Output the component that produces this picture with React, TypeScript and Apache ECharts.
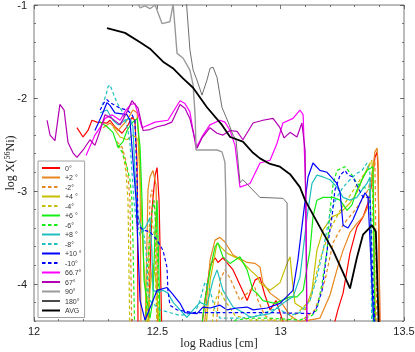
import React, { useEffect, useRef } from 'react';
import * as echarts from 'echarts';

// Legend / series names
const seriesNames = ['0°', '+2 °', '-2°', '+4 °', '-4°', '+6 °', '-6°', '+8 °', '-8°', '+10 °', '-10°', '66.7°', '67°', '90°', '180°', 'AVG'];

// x tick values and y label values
const xTickValues = [12, 12.5, 13, 13.5];
const yMajorValues = [-4, -3, -2, -1];

// [log Radius, log X(56Ni)]
const d0 = [[12.174,-2.32],[12.199,-2.42],[12.219,-2.35],[12.235,-2.24],[12.255,-2.26],[12.296,-2.27],[12.308,-2.24],[12.328,-2.31],[12.357,-2.38],[12.377,-2.31],[12.397,-2.21],[12.409,-2.24],[12.418,-2.70],[12.422,-4.61],[12.462,-4.61],[12.478,-3.21],[12.491,-2.83],[12.499,-2.75],[12.507,-3.10],[12.519,-4.61],[12.673,-4.61],[12.693,-4.18],[12.714,-3.80],[12.734,-3.72],[12.746,-3.77],[12.766,-3.72],[12.807,-3.85],[12.864,-4.18],[12.896,-3.96],[12.916,-3.93],[12.936,-4.12],[12.957,-4.28],[12.981,-4.18],[13.005,-4.37],[13.038,-4.61],[13.200,-4.61],[13.232,-4.28],[13.253,-4.10],[13.281,-3.67],[13.309,-3.39],[13.334,-3.28],[13.354,-3.13],[13.370,-2.92],[13.382,-2.64],[13.391,-2.58],[13.395,-2.78],[13.403,-4.61]];
const dP2 = [[12.280,-2.32],[12.308,-2.27],[12.341,-2.35],[12.377,-2.24],[12.401,-2.13],[12.418,-2.16],[12.430,-2.70],[12.434,-4.61],[12.450,-4.61],[12.462,-2.99],[12.470,-2.85],[12.482,-2.78],[12.495,-2.94],[12.503,-4.61],[12.653,-4.61],[12.693,-4.39],[12.714,-3.74],[12.734,-3.53],[12.754,-3.50],[12.774,-3.55],[12.807,-3.69],[12.864,-3.77],[12.896,-3.78],[12.916,-3.82],[12.928,-3.99],[12.957,-4.10],[12.997,-4.18],[13.038,-4.34],[13.078,-4.41],[13.159,-4.37],[13.200,-4.12],[13.228,-3.85],[13.253,-3.64],[13.281,-3.45],[13.309,-3.35],[13.334,-3.28],[13.354,-3.17],[13.370,-2.85],[13.382,-2.58],[13.391,-2.54],[13.395,-2.70],[13.403,-4.61]];
const dM2 = [[12.336,-2.47],[12.357,-2.53],[12.369,-2.64],[12.381,-2.83],[12.389,-3.10],[12.397,-4.61],[12.458,-4.61],[12.470,-3.10],[12.478,-2.99],[12.491,-3.21],[12.499,-4.61],[12.734,-4.61],[12.754,-3.96],[12.774,-3.85],[12.795,-3.94],[12.835,-4.18],[12.876,-4.07],[12.896,-4.04],[12.908,-4.18],[12.936,-4.34],[12.977,-4.41],[13.078,-4.41],[13.139,-4.28],[13.180,-3.96],[13.212,-3.56],[13.241,-3.42],[13.269,-3.31],[13.301,-3.21],[13.330,-3.10],[13.354,-2.99],[13.370,-2.83],[13.382,-2.67],[13.391,-4.61]];
const dP4 = [[12.320,-2.31],[12.349,-2.42],[12.377,-2.45],[12.401,-2.40],[12.422,-2.45],[12.434,-3.10],[12.442,-3.64],[12.454,-4.18],[12.462,-4.61],[12.470,-4.07],[12.482,-3.78],[12.495,-3.96],[12.511,-4.61],[12.693,-4.61],[12.714,-3.96],[12.742,-3.56],[12.782,-3.67],[12.835,-3.74],[12.876,-3.85],[12.908,-3.93],[12.916,-3.99],[12.957,-4.07],[12.997,-3.99],[13.026,-3.78],[13.038,-3.71],[13.046,-3.93],[13.058,-4.21],[13.099,-4.28],[13.127,-4.07],[13.147,-3.64],[13.172,-3.42],[13.208,-3.28],[13.241,-3.24],[13.281,-3.13],[13.309,-3.02],[13.334,-2.85],[13.362,-2.70],[13.374,-2.70],[13.382,-3.99],[13.386,-4.61]];
const dM4 = [[12.341,-2.51],[12.357,-2.56],[12.365,-2.67],[12.373,-2.80],[12.381,-3.10],[12.389,-4.61],[12.462,-4.61],[12.470,-3.42],[12.478,-3.31],[12.491,-3.53],[12.499,-4.61],[12.714,-4.61],[12.734,-4.18],[12.754,-4.07],[12.774,-4.18],[12.815,-4.34],[12.876,-4.39],[13.038,-4.39],[13.119,-4.18],[13.159,-3.74],[13.200,-3.42],[13.241,-3.21],[13.281,-3.05],[13.322,-2.88],[13.350,-2.78],[13.370,-2.67],[13.382,-4.61]];
const dP6 = [[12.268,-2.26],[12.296,-2.31],[12.320,-2.37],[12.341,-2.53],[12.361,-2.47],[12.377,-2.35],[12.397,-2.27],[12.418,-2.22],[12.430,-2.53],[12.438,-3.10],[12.446,-3.96],[12.458,-4.18],[12.470,-4.37],[12.482,-4.18],[12.491,-3.42],[12.499,-3.10],[12.503,-3.50],[12.511,-4.39],[12.519,-4.61],[12.673,-4.61],[12.693,-4.18],[12.714,-3.85],[12.734,-3.60],[12.746,-3.56],[12.766,-3.71],[12.795,-3.78],[12.835,-3.71],[12.864,-3.85],[12.888,-4.07],[12.904,-4.10],[12.928,-4.18],[12.977,-4.21],[13.038,-4.14],[13.066,-4.14],[13.091,-4.07],[13.119,-3.64],[13.131,-3.28],[13.147,-3.10],[13.172,-3.07],[13.212,-3.07],[13.241,-3.10],[13.269,-3.21],[13.289,-3.15],[13.309,-2.99],[13.330,-2.88],[13.350,-2.78],[13.374,-2.74],[13.382,-4.61]];
const dM6 = [[12.336,-2.51],[12.357,-2.58],[12.377,-2.74],[12.389,-2.88],[12.397,-3.10],[12.401,-3.53],[12.409,-4.61],[12.450,-4.61],[12.462,-3.74],[12.474,-3.31],[12.486,-3.10],[12.499,-3.53],[12.511,-4.61],[12.774,-4.61],[12.815,-4.39],[12.876,-4.37],[12.957,-4.37],[13.078,-4.39],[13.127,-4.34],[13.147,-4.28],[13.168,-3.99],[13.188,-3.64],[13.200,-3.21],[13.212,-2.94],[13.228,-2.78],[13.261,-2.74],[13.289,-2.83],[13.309,-2.92],[13.334,-2.96],[13.362,-2.99],[13.374,-4.61]];
const dP8 = [[12.268,-2.16],[12.296,-2.13],[12.320,-2.24],[12.341,-2.29],[12.369,-2.24],[12.389,-2.22],[12.401,-2.31],[12.409,-2.78],[12.418,-3.21],[12.422,-3.28],[12.438,-3.42],[12.450,-3.40],[12.470,-3.29],[12.478,-3.64],[12.482,-4.07],[12.503,-4.09],[12.523,-4.07],[12.543,-4.10],[12.564,-4.20],[12.592,-4.28],[12.620,-4.36],[12.645,-4.28],[12.673,-4.20],[12.701,-4.23],[12.726,-3.96],[12.742,-3.85],[12.754,-3.96],[12.766,-4.07],[12.807,-4.25],[12.855,-4.32],[12.876,-4.36],[12.957,-4.32],[13.009,-4.21],[13.050,-4.14],[13.078,-3.93],[13.091,-3.64],[13.107,-3.28],[13.127,-2.92],[13.147,-2.83],[13.172,-2.85],[13.200,-2.88],[13.228,-2.96],[13.253,-3.07],[13.281,-3.10],[13.309,-3.07],[13.330,-2.99],[13.350,-2.92],[13.362,-2.85],[13.370,-3.99],[13.378,-4.61]];
const dM8 = [[12.276,-2.08],[12.292,-1.97],[12.300,-1.88],[12.308,-1.86],[12.324,-1.97],[12.336,-2.05],[12.361,-2.16],[12.381,-2.35],[12.389,-2.49],[12.397,-2.78],[12.405,-3.10],[12.414,-3.31],[12.430,-3.48],[12.442,-3.40],[12.454,-3.64],[12.462,-4.07],[12.470,-4.18],[12.511,-4.28],[12.592,-4.34],[12.653,-4.31],[12.673,-4.18],[12.693,-3.98],[12.714,-4.07],[12.734,-4.28],[12.754,-4.37],[12.835,-4.37],[12.896,-4.35],[12.936,-4.31],[12.985,-4.26],[13.038,-4.34],[13.078,-4.31],[13.119,-4.18],[13.147,-3.93],[13.172,-3.64],[13.200,-3.24],[13.228,-3.07],[13.253,-2.96],[13.281,-2.88],[13.309,-2.81],[13.330,-2.78],[13.350,-2.70],[13.362,-2.81],[13.370,-4.61]];
const dP10 = [[12.247,-2.35],[12.276,-2.18],[12.296,-2.05],[12.308,-2.08],[12.328,-2.16],[12.377,-2.18],[12.389,-2.24],[12.401,-2.67],[12.414,-3.10],[12.422,-3.64],[12.430,-4.18],[12.450,-4.39],[12.478,-4.21],[12.499,-4.07],[12.539,-4.04],[12.559,-4.10],[12.592,-4.21],[12.612,-4.31],[12.661,-4.32],[12.685,-4.25],[12.714,-4.26],[12.754,-4.23],[12.782,-4.28],[12.823,-4.26],[12.864,-4.25],[12.888,-4.28],[12.945,-4.26],[12.997,-4.21],[13.050,-4.07],[13.070,-3.74],[13.091,-3.28],[13.111,-2.85],[13.131,-2.70],[13.159,-2.78],[13.188,-2.80],[13.228,-2.92],[13.241,-3.02],[13.253,-3.37],[13.273,-3.40],[13.293,-3.31],[13.322,-3.13],[13.342,-3.02],[13.354,-3.07],[13.370,-3.99],[13.382,-4.61]];
const dM10 = [[12.268,-2.13],[12.284,-2.05],[12.296,-2.02],[12.308,-2.05],[12.328,-2.08],[12.349,-2.11],[12.377,-2.13],[12.397,-2.18],[12.409,-2.24],[12.418,-2.88],[12.422,-3.37],[12.442,-3.42],[12.470,-3.44],[12.499,-3.53],[12.523,-3.64],[12.539,-3.82],[12.543,-4.07],[12.551,-4.23],[12.580,-4.28],[12.645,-4.31],[12.795,-4.31],[12.957,-4.31],[13.131,-4.32],[13.147,-4.25],[13.168,-4.07],[13.180,-3.82],[13.192,-3.56],[13.208,-3.28],[13.220,-2.99],[13.241,-2.83],[13.261,-2.78],[13.273,-2.83],[13.293,-2.85],[13.309,-2.94],[13.334,-3.07],[13.362,-3.07],[13.374,-3.99],[13.386,-4.61]];
const d667 = [[12.211,-2.62],[12.247,-2.40],[12.268,-2.32],[12.288,-2.22],[12.316,-2.18],[12.349,-2.24],[12.373,-2.13],[12.393,-2.07],[12.409,-2.06],[12.438,-2.32],[12.491,-2.26],[12.543,-2.24],[12.592,-2.03],[12.612,-2.06],[12.632,-2.15],[12.657,-2.54],[12.685,-2.40],[12.713,-2.29],[12.754,-2.24],[12.774,-2.26],[12.795,-2.35],[12.815,-2.51],[12.827,-2.78],[12.835,-2.96],[12.876,-2.92],[12.916,-2.70],[12.957,-2.67],[12.985,-2.49],[13.009,-2.27],[13.050,-2.22],[13.078,-2.13],[13.091,-2.18],[13.103,-3.10],[13.107,-4.61]];
const d67 = [[12.053,-2.24],[12.065,-2.40],[12.085,-2.46],[12.105,-2.07],[12.122,-2.13],[12.138,-2.48],[12.158,-2.59],[12.174,-2.64],[12.199,-2.56],[12.227,-2.45],[12.247,-2.51],[12.268,-2.35],[12.288,-2.18],[12.316,-2.22],[12.349,-2.29],[12.377,-2.15],[12.397,-2.03],[12.422,-2.11],[12.442,-2.35],[12.470,-2.34],[12.499,-2.31],[12.531,-2.29],[12.559,-2.26],[12.592,-2.07],[12.612,-2.11],[12.632,-2.22],[12.661,-2.54],[12.681,-2.43],[12.713,-2.32],[12.742,-2.38],[12.766,-2.40],[12.795,-2.35],[12.823,-2.36],[12.847,-2.45],[12.888,-2.27],[12.928,-2.24],[12.969,-2.22],[12.997,-2.32],[13.014,-2.43],[13.038,-2.37],[13.066,-2.42],[13.086,-2.27],[13.099,-2.56],[13.107,-4.61]];
const d90 = [[12.418,-0.97],[12.430,-1.03],[12.450,-1.01],[12.470,-1.04],[12.491,-1.00],[12.519,-1.20],[12.551,-1.18],[12.564,-0.99],[12.580,-1.52],[12.604,-1.57],[12.632,-1.70],[12.645,-1.86],[12.653,-2.18],[12.657,-2.56],[12.742,-2.56],[12.762,-2.58],[12.774,-2.69],[12.778,-3.10],[12.778,-4.61]];
const d180 = [[12.616,-0.90],[12.632,-1.48],[12.645,-1.70],[12.661,-1.81],[12.681,-1.97],[12.701,-1.81],[12.714,-1.68],[12.726,-1.67],[12.742,-1.78],[12.762,-2.10],[12.787,-2.26],[12.807,-2.40],[12.819,-2.45],[12.835,-2.91],[12.847,-2.88],[12.876,-2.96],[12.916,-3.07],[13.009,-3.08],[13.026,-3.13],[13.027,-4.61]];
const dAvg = [[12.296,-1.25],[12.369,-1.30],[12.430,-1.40],[12.470,-1.47],[12.523,-1.61],[12.563,-1.68],[12.604,-1.79],[12.645,-1.89],[12.701,-2.10],[12.762,-2.29],[12.795,-2.42],[12.847,-2.47],[12.888,-2.59],[12.916,-2.65],[12.957,-2.71],[12.997,-2.74],[13.038,-2.82],[13.078,-2.96],[13.099,-3.10],[13.159,-3.39],[13.212,-3.64],[13.253,-3.88],[13.281,-4.05],[13.309,-3.72],[13.334,-3.47],[13.370,-3.37],[13.386,-3.44],[13.398,-4.50]];

const seriesData = [d0, dP2, dM2, dP4, dM4, dP6, dM6, dP8, dM8, dP10, dM10, d667, d67, d90, d180, dAvg];

// styles
const colors = ['#ff0000', '#e8861f', '#e8861f', '#c6be00', '#c6be00', '#14ee14', '#14ee14', '#1fbfbf', '#1fbfbf', '#0000ff', '#0000ff', '#ff00ff', '#b400b4', '#9a9a9a', '#4a4a4a', '#000000'];
const dashed = [false, false, true, false, true, false, true, false, true, false, true, false, false, false, false, false];
const widths = [1.2, 1.2, 1.2, 1.2, 1.2, 1.2, 1.2, 1.2, 1.2, 1.2, 1.2, 1.2, 1.2, 1.4, 0.8, 1.8];

const AXIS = '#555';

export default function App() {
  const ref = useRef<HTMLDivElement>(null);
  useEffect(() => {
    if (!ref.current) return;
    const chart = echarts.init(ref.current, undefined, { renderer: 'svg' });
    const xBase = {
      type: 'value', min: xTickValues[0], max: xTickValues[xTickValues.length - 1], interval: 0.5,
      axisLine: { show: false },
      axisTick: { inside: true, length: 4, lineStyle: { color: AXIS, width: 0.8 } },
      minorTick: { show: true, splitNumber: 5, length: 2, lineStyle: { color: AXIS, width: 0.8 } },
      splitLine: { show: false }, minorSplitLine: { show: false },
    };
    const yBase = {
      type: 'value', min: -4.4, max: -1,
      axisLine: { show: false }, splitLine: { show: false },
    };
    chart.setOption({
      animation: false,
      grid: {
        left: 34, right: 11, top: 5, bottom: 31, show: true, borderColor: AXIS, borderWidth: 0.8, backgroundColor: '#fff',
        containLabel: false, outerBoundsMode: 'none',
      },
      xAxis: [
        {
          ...xBase, position: 'bottom',
          axisLabel: { fontSize: 11, color: '#222', margin: 4, fontFamily: 'Liberation Sans', customValues: xTickValues, showMinLabel: true, showMaxLabel: true, hideOverlap: false },
          name: 'log Radius [cm]', nameLocation: 'middle', nameGap: 16, nameMoveOverlap: false,
          nameTextStyle: { fontFamily: 'Liberation Serif', fontSize: 12, color: '#222', verticalAlign: 'top' },
        },
        { ...xBase, position: 'top', axisLabel: { show: false } },
      ],
      yAxis: [
        {
          // tick labels + major ticks
          ...yBase, position: 'left',
          axisTick: { inside: true, length: 4, customValues: yMajorValues, lineStyle: { color: AXIS, width: 0.8 } },
          axisLabel: { fontSize: 11, color: '#222', margin: 7, fontFamily: 'Liberation Sans', customValues: yMajorValues, hideOverlap: false, showMinLabel: true, showMaxLabel: true },
        },
        {
          ...yBase, position: 'right',
          axisTick: { inside: true, length: 4, customValues: yMajorValues, lineStyle: { color: AXIS, width: 0.8 } },
          axisLabel: { show: false },
        },
        {
          // minor ticks + axis name
          ...yBase, position: 'left', interval: 0.2,
          axisTick: { inside: true, length: 2, lineStyle: { color: AXIS, width: 0.8 } },
          axisLabel: { show: false },
          name: 'log X({sup|56}Ni)', nameLocation: 'middle', nameGap: 17, nameRotate: 90, nameMoveOverlap: false,
          nameTextStyle: {
            fontFamily: 'Liberation Serif', fontSize: 12, color: '#222', lineHeight: 14,
            rich: { sup: { fontFamily: 'Liberation Serif', fontSize: 8, verticalAlign: 'top', lineHeight: 14, padding: [0, 0, 6, 0], color: '#222' } },
          },
        },
        {
          ...yBase, position: 'right', interval: 0.2,
          axisTick: { inside: true, length: 2, lineStyle: { color: AXIS, width: 0.8 } },
          axisLabel: { show: false },
        },
      ],
      legend: {
        data: seriesNames, orient: 'vertical', left: 38, top: 161,
        itemWidth: 18, itemHeight: 6, itemGap: 1.5,
        padding: [3, 3, 3, 3], backgroundColor: '#fff', borderColor: '#888', borderWidth: 0.8,
        itemStyle: { opacity: 0 },
        textStyle: { fontSize: 7, lineHeight: 8, fontFamily: 'Liberation Sans', color: '#333' },
      },
      series: seriesNames.map((name, i) => ({
        name, type: 'line', data: seriesData[i], symbol: 'none', clip: true,
        xAxisIndex: 0, yAxisIndex: 0,
        lineStyle: { color: colors[i], width: widths[i], type: dashed[i] ? [3.5, 2.5] : 'solid' },
        itemStyle: { color: colors[i] },
        z: 2 + i * 0.01,
      })),
    });
    return () => chart.dispose();
  }, []);
  return <div ref={ref} style={{ position: 'fixed', left: 0, top: 0, width: 415, height: 352 }} />;
}
